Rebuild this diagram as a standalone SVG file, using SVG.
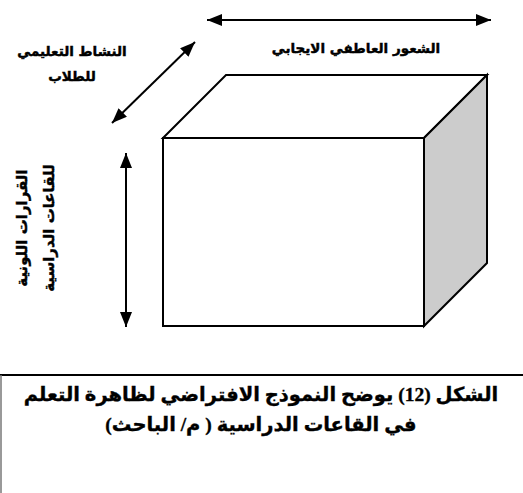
<svg xmlns="http://www.w3.org/2000/svg" width="523" height="493" viewBox="0 0 523 493">
<defs>
<marker id="ah" viewBox="0 0 15 12" refX="15" refY="6" markerWidth="15" markerHeight="12" markerUnits="userSpaceOnUse" orient="auto-start-reverse">
<path d="M0,0 L15,6 L0,12 z" fill="#000"/>
</marker>
<style>
.lbl{font-family:"DejaVu Sans","Liberation Sans",sans-serif;font-weight:bold;font-size:13.5px;fill:#000;stroke:#000;stroke-width:0.45}
.vlbl{font-size:15px}
.cap{font-family:"Liberation Serif","DejaVu Sans",serif;font-weight:bold;font-size:19.5px;fill:#000;stroke:#000;stroke-width:0.35}
.arr{stroke:#000;stroke-width:2;fill:none;marker-start:url(#ah);marker-end:url(#ah)}
.edge{stroke:#000;stroke-width:2;stroke-linejoin:miter}
</style>
</defs>
<rect width="523" height="493" fill="#fff"/>
<g id="cube">
<polygon class="edge" points="163,138 226,75 487,75 424,138" fill="#fff"/>
<polygon class="edge" points="424,138 487,75 487,263 424,326" fill="#cccccc"/>
<rect class="edge" x="163" y="138" width="261" height="188" fill="#fff"/>
</g>
<g id="connectors">
<line class="arr" x1="207" y1="20" x2="491" y2="20"/>
<line class="arr" x1="195" y1="42" x2="112" y2="123"/>
<line class="arr" x1="126" y1="153" x2="126" y2="327"/>
</g>
<g id="label-emotion">
<text class="lbl" x="356" y="53" text-anchor="middle" direction="rtl">الشعور العاطفي الايجابي</text>
</g>
<g id="label-activity">
<text class="lbl" x="72" y="56" text-anchor="middle" direction="rtl">النشاط التعليمي</text>
<text class="lbl" x="72" y="81" text-anchor="middle" direction="rtl">للطلاب</text>
</g>
<g id="label-decisions">
<text class="lbl vlbl" transform="translate(27,228) rotate(-90)" x="0" y="0" text-anchor="middle" direction="rtl">القرارات اللونية</text>
<text class="lbl vlbl" transform="translate(54,228) rotate(-90)" x="0" y="0" text-anchor="middle" direction="rtl">للقاعات الدراسية</text>
</g>
<g id="caption">
<line x1="0" y1="375" x2="523" y2="375" stroke="#000" stroke-width="2"/>
<line x1="1" y1="375" x2="1" y2="493" stroke="#777" stroke-width="1.5"/>
<text class="cap" x="261" y="401" text-anchor="middle" direction="rtl">الشكل (12) يوضح النموذج الافتراضي لظاهرة التعلم</text>
<text class="cap" x="261" y="431" text-anchor="middle" direction="rtl">في القاعات الدراسية ( م/ الباحث)</text>
</g>
</svg>
